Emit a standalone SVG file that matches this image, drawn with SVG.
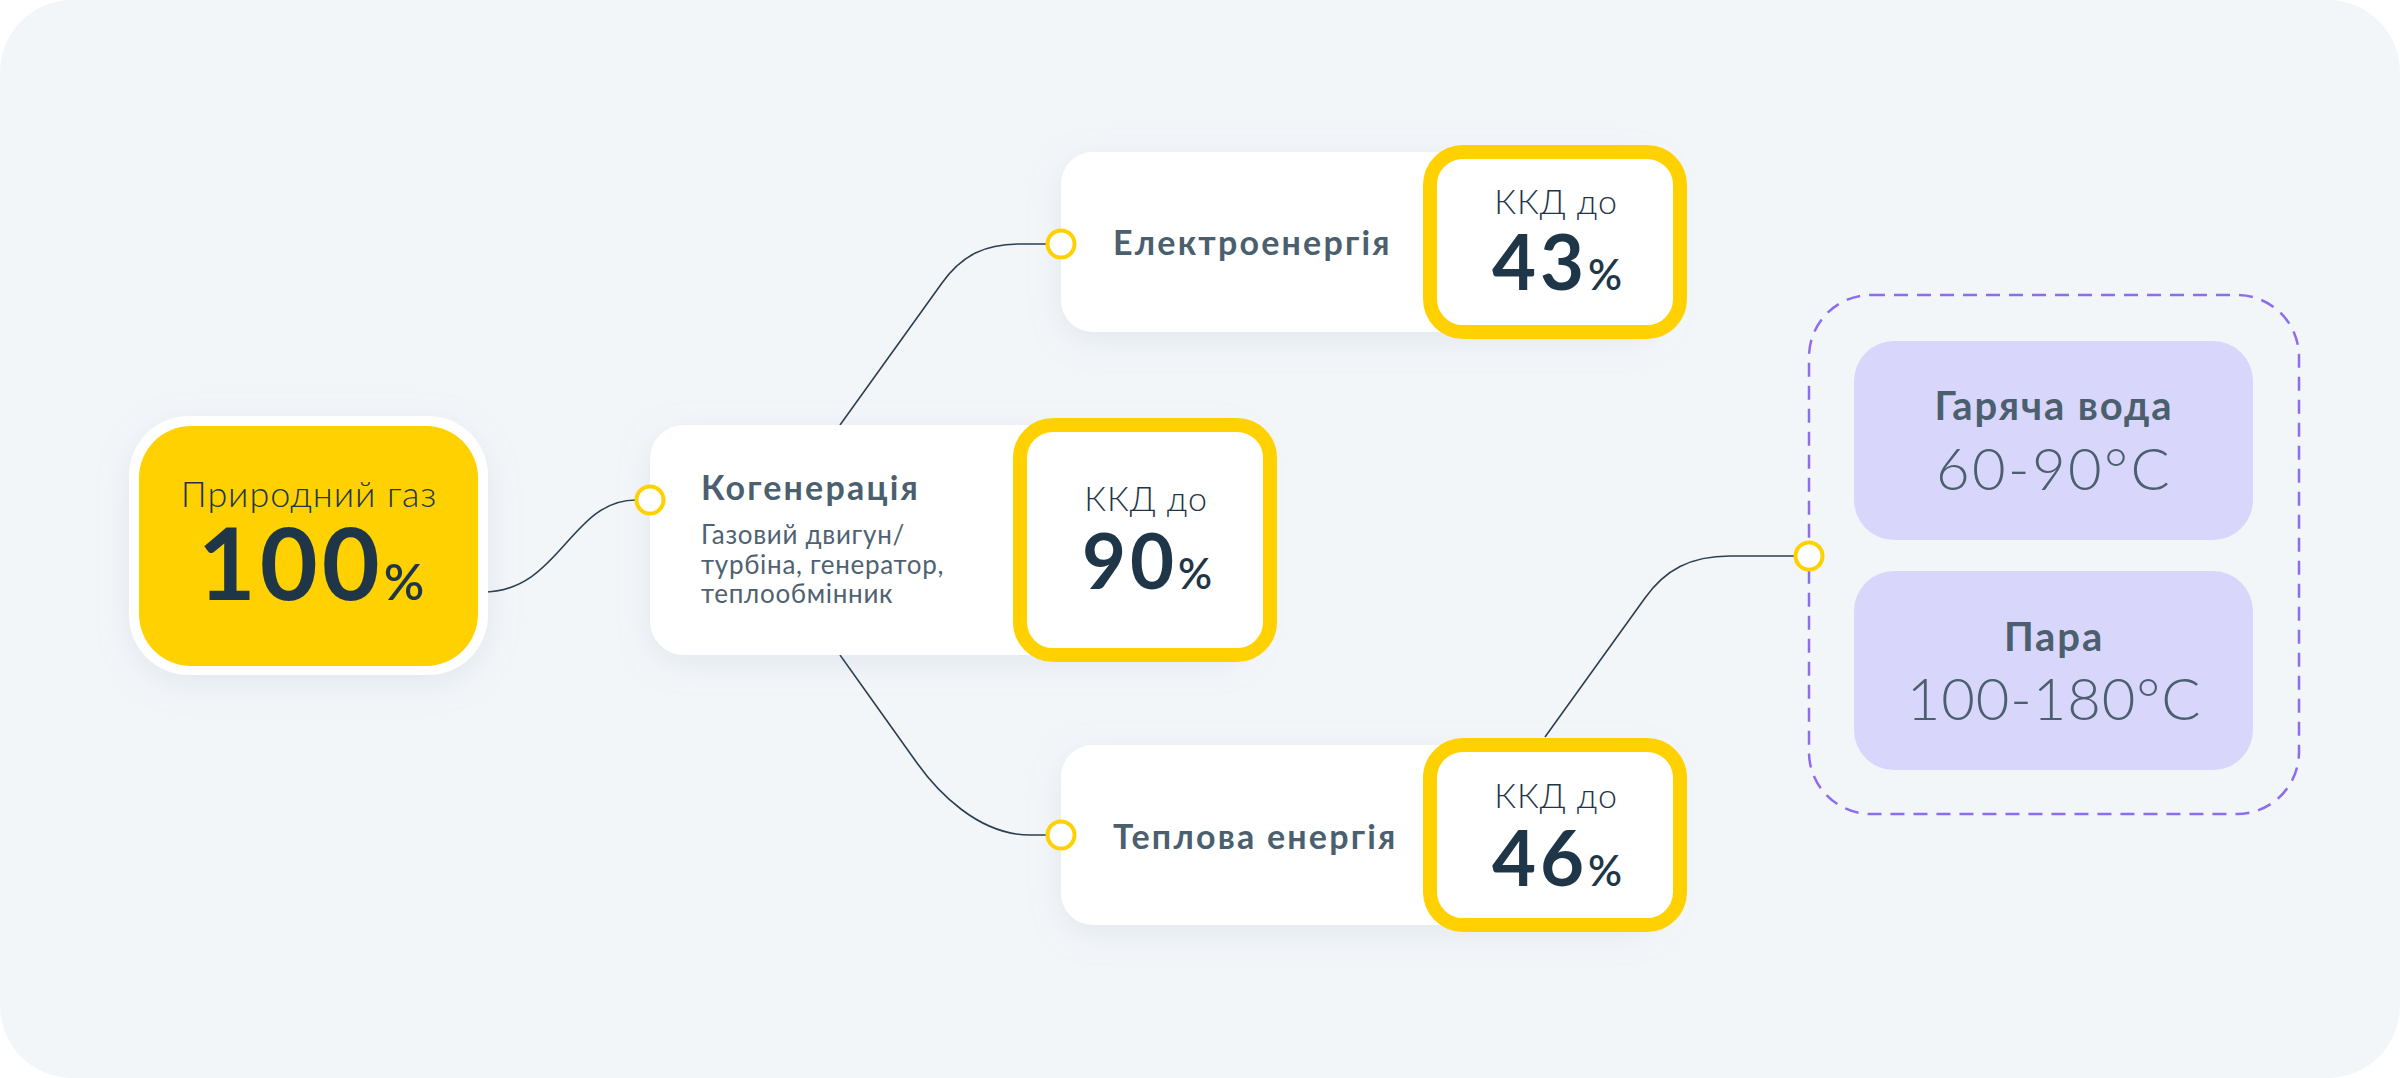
<svg xmlns="http://www.w3.org/2000/svg" width="2400" height="1078" viewBox="0 0 2400 1078">
<defs>
<filter id="sh" x="-20%" y="-30%" width="140%" height="160%">
<feDropShadow dx="0" dy="8" stdDeviation="16" flood-color="#8ea2bd" flood-opacity="0.18"/>
</filter>
<style>
text{font-family:Lato,"Noto Sans","DejaVu Sans",sans-serif}
.card{fill:#ffffff}
.kkd{fill:none;stroke:#ffd100;stroke-width:14}
.port{fill:#ffffff;stroke:#ffd100;stroke-width:4}
.conn{fill:none;stroke:#2b3f52;stroke-width:1.6}
.title{font-size:34px;font-weight:700;fill:#4b5f6f;letter-spacing:2.2px}
.sub{font-size:26px;font-weight:400;fill:#4f6272;letter-spacing:0.7px}
.lab{font-size:34px;font-weight:300;fill:#1f3649;text-anchor:middle;letter-spacing:1px}
.num{font-size:76px;font-weight:700;fill:#1f3649;text-anchor:middle;letter-spacing:4px}
.pct{font-size:42px;font-weight:600;letter-spacing:0}
.tt{font-size:40px;font-weight:700;fill:#4b5f6f;text-anchor:middle;letter-spacing:1.9px}
.tv{font-size:58px;font-weight:300;fill:#4b5f6f;text-anchor:middle}
</style>
</defs>
<rect x="0" y="0" width="2400" height="1078" fill="#ffffff"/>
<rect x="0" y="0" width="2400" height="1078" rx="72" fill="#f3f6f9"/>

<g id="connectors">
<path class="conn" d="M483,592 C560,592 570,500 636,500"/>
<path class="conn" d="M840,425 L942,283 C962,255 985,244 1020,244 L1047,244"/>
<path class="conn" d="M840,655 L917,763 C937,791 978,835 1030,835 L1047,835"/>
<path class="conn" d="M1545,737 L1645,598 C1665,570 1690,556 1730,556 L1795,556"/>
</g>

<g id="gas">
<rect x="129" y="416" width="359" height="259" rx="60" fill="#ffffff" filter="url(#sh)"/>
<rect x="139" y="426" width="339" height="240" rx="52" fill="#ffd100"/>
<text x="309" y="507" text-anchor="middle" font-size="36" font-weight="300" fill="#1f3649" letter-spacing="0.9">Природний газ</text>
<text x="311" y="600" text-anchor="middle" font-size="100" font-weight="700" fill="#1f3649" letter-spacing="4">100<tspan font-size="50" font-weight="600" letter-spacing="0">%</tspan></text>
</g>

<g id="cogeneration">
<rect class="card" x="650" y="425" width="600" height="230" rx="34" filter="url(#sh)"/>
<rect class="card" x="1020" y="425" width="250" height="230" rx="33"/>
<rect class="kkd" x="1020" y="425" width="250" height="230" rx="33"/>
<circle class="port" cx="650" cy="500" r="13.5"/>
<text class="title" x="701" y="500">Когенерація</text>
<text class="sub" x="701" y="544">Газовий двигун/</text>
<text class="sub" x="701" y="574">турбіна, генератор,</text>
<text class="sub" x="701" y="603">теплообмінник</text>
<text class="lab" x="1146" y="511">ККД до</text>
<text class="num" x="1147" y="589">90<tspan class="pct">%</tspan></text>
</g>

<g id="electricity">
<rect class="card" x="1061" y="152" width="600" height="180" rx="32" filter="url(#sh)"/>
<rect class="card" x="1430" y="152" width="250" height="180" rx="33"/>
<rect class="kkd" x="1430" y="152" width="250" height="180" rx="33"/>
<circle class="port" cx="1061" cy="244" r="13.5"/>
<text class="title" x="1113" y="255">Електроенергія</text>
<text class="lab" x="1556" y="214">ККД до</text>
<text class="num" x="1557" y="290">43<tspan class="pct">%</tspan></text>
</g>

<g id="heat">
<rect class="card" x="1061" y="745" width="600" height="180" rx="32" filter="url(#sh)"/>
<rect class="card" x="1430" y="745" width="250" height="180" rx="33"/>
<rect class="kkd" x="1430" y="745" width="250" height="180" rx="33"/>
<circle class="port" cx="1061" cy="835" r="13.5"/>
<text class="title" x="1113" y="849">Теплова енергія</text>
<text class="lab" x="1556" y="808">ККД до</text>
<text class="num" x="1557" y="886">46<tspan class="pct">%</tspan></text>
</g>

<g id="outputs">
<rect x="1809" y="295" width="490" height="519" rx="62" fill="none" stroke="#8d6cf0" stroke-width="2.5" stroke-dasharray="14 9"/>
<circle class="port" cx="1809" cy="556" r="13.5"/>
</g>

<g id="hot-water">
<rect x="1854" y="341" width="399" height="199" rx="40" fill="#d9d6fb"/>
<text class="tt" x="2054" y="420">Гаряча вода</text>
<text class="tv" x="2054" y="490" letter-spacing="2.4">60-90°C</text>
</g>

<g id="steam">
<rect x="1854" y="571" width="399" height="199" rx="40" fill="#d9d6fb"/>
<text class="tt" x="2054" y="651">Пара</text>
<text class="tv" x="2054" y="720" letter-spacing="0.9">100-180°C</text>
</g>
</svg>
